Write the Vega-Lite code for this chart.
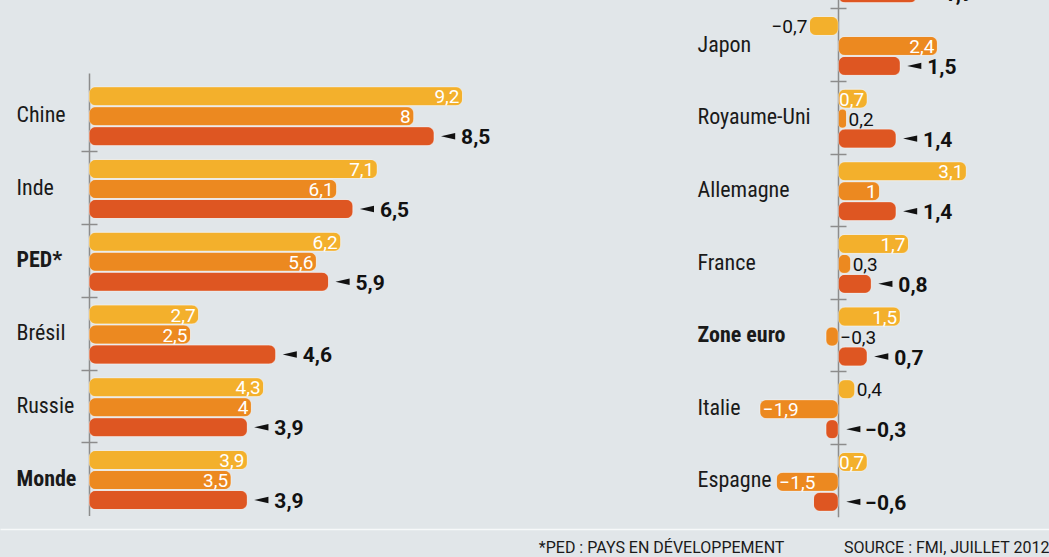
{
  "$schema": "https://vega.github.io/schema/vega-lite/v6.json",
  "width": 1049,
  "height": 529,
  "autosize": {"type": "none"},
  "padding": {"left": 0, "top": 0, "right": 0, "bottom": 28},
  "background": "#E1E6E9",
  "config": {
    "view": {"stroke": null},
    "font": "Roboto Condensed, Liberation Sans Narrow, DejaVu Sans Condensed, sans-serif",
    "locale": {"number": {"decimal": ",", "thousands": " ", "grouping": [3], "currency": ["", " €"], "minus": "−"}}
  },
  "datasets": {
    "gauche": [
      {"pays": "Chine", "annee": "2011", "valeur": 9.2},
      {"pays": "Chine", "annee": "2012", "valeur": 8},
      {"pays": "Chine", "annee": "2013", "valeur": 8.5},
      {"pays": "Inde", "annee": "2011", "valeur": 7.1},
      {"pays": "Inde", "annee": "2012", "valeur": 6.1},
      {"pays": "Inde", "annee": "2013", "valeur": 6.5},
      {"pays": "PED*", "annee": "2011", "valeur": 6.2},
      {"pays": "PED*", "annee": "2012", "valeur": 5.6},
      {"pays": "PED*", "annee": "2013", "valeur": 5.9},
      {"pays": "Brésil", "annee": "2011", "valeur": 2.7},
      {"pays": "Brésil", "annee": "2012", "valeur": 2.5},
      {"pays": "Brésil", "annee": "2013", "valeur": 4.6},
      {"pays": "Russie", "annee": "2011", "valeur": 4.3},
      {"pays": "Russie", "annee": "2012", "valeur": 4},
      {"pays": "Russie", "annee": "2013", "valeur": 3.9},
      {"pays": "Monde", "annee": "2011", "valeur": 3.9},
      {"pays": "Monde", "annee": "2012", "valeur": 3.5},
      {"pays": "Monde", "annee": "2013", "valeur": 3.9}
    ],
    "droite": [
      {"pays": "Pays avancés", "annee": "2011", "valeur": 1.6},
      {"pays": "Pays avancés", "annee": "2012", "valeur": 1.4},
      {"pays": "Pays avancés", "annee": "2013", "valeur": 1.9},
      {"pays": "Japon", "annee": "2011", "valeur": -0.7},
      {"pays": "Japon", "annee": "2012", "valeur": 2.4},
      {"pays": "Japon", "annee": "2013", "valeur": 1.5},
      {"pays": "Royaume-Uni", "annee": "2011", "valeur": 0.7},
      {"pays": "Royaume-Uni", "annee": "2012", "valeur": 0.2},
      {"pays": "Royaume-Uni", "annee": "2013", "valeur": 1.4},
      {"pays": "Allemagne", "annee": "2011", "valeur": 3.1},
      {"pays": "Allemagne", "annee": "2012", "valeur": 1},
      {"pays": "Allemagne", "annee": "2013", "valeur": 1.4},
      {"pays": "France", "annee": "2011", "valeur": 1.7},
      {"pays": "France", "annee": "2012", "valeur": 0.3},
      {"pays": "France", "annee": "2013", "valeur": 0.8},
      {"pays": "Zone euro", "annee": "2011", "valeur": 1.5},
      {"pays": "Zone euro", "annee": "2012", "valeur": -0.3},
      {"pays": "Zone euro", "annee": "2013", "valeur": 0.7},
      {"pays": "Italie", "annee": "2011", "valeur": 0.4},
      {"pays": "Italie", "annee": "2012", "valeur": -1.9},
      {"pays": "Italie", "annee": "2013", "valeur": -0.3},
      {"pays": "Espagne", "annee": "2011", "valeur": 0.7},
      {"pays": "Espagne", "annee": "2012", "valeur": -1.5},
      {"pays": "Espagne", "annee": "2013", "valeur": -0.6}
    ]
  },
  "resolve": {"scale": {"x": "independent", "y": "independent", "yOffset": "independent"}},
  "layer": [
    {
      "data": {"name": "gauche"},
      "resolve": {"axis": {"y": "independent"}},
      "encoding": {
        "x": {"field": "valeur", "type": "quantitative",
              "scale": {"domain": [-2.1921, 23.6453], "nice": false, "zero": false},
              "axis": {"orient": "bottom", "domainColor": "#F7F9FA", "domainWidth": 1.5, "ticks": false, "labels": false, "grid": false,
                       "title": "*PED : PAYS EN DÉVELOPPEMENT\u00a0\u00a0\u00a0\u00a0\u00a0\u00a0\u00a0\u00a0\u00a0\u00a0\u00a0\u00a0\u00a0\u00a0\u00a0SOURCE : FMI, JUILLET 2012",
                       "titleAnchor": "end", "titleAlign": "right", "titleBaseline": "top", "titlePadding": 10,
                       "titleFont": "Roboto", "titleFontSize": 16, "titleFontWeight": "normal", "titleColor": "#1a1a1a"}},
        "yOffset": {"field": "annee", "type": "nominal", "scale": {"paddingInner": 0.05, "paddingOuter": 0.344, "align": 0.6}}
      },
      "layer": [
        {
          "mark": {"type": "bar", "cornerRadius": 7, "stroke": "#ffffff", "strokeOpacity": 0.35, "strokeWidth": 1},
          "encoding": {
            "y": {"field": "pays", "type": "nominal", "sort": null,
                  "scale": {"range": [73, 515.5], "paddingInner": 0, "paddingOuter": 0.0412, "align": 0.917},
                  "axis": {"orient": "left", "offset": -89, "domainColor": "#8c8c8c", "domainWidth": 1.5, "ticks": false,
                           "labelAlign": "left", "labelBaseline": "middle", "labelPadding": 73, "labelFontSize": 22, "labelColor": "#1a1a1a", "labelLimit": 300,
                           "labelFontWeight": {"condition": {"test": "datum.value === 'PED*' || datum.value === 'Monde'", "value": "bold"}, "value": "normal"},
                           "grid": false, "title": null}},
            "color": {"field": "annee", "type": "nominal",
                      "scale": {"domain": ["2011", "2012", "2013"], "range": ["#F3B02C", "#EC8920", "#DE5622"]},
                      "legend": null}
          }
        },
        {
          "transform": [{"filter": "datum.annee != '2013' && datum.valeur >= 0.6"}],
          "mark": {"type": "text", "align": "right", "baseline": "middle", "dx": -3, "dy": 1, "font": "Roboto", "fontSize": 19, "fill": "#ffffff"},
          "encoding": {
            "y": {"field": "pays", "type": "nominal", "sort": null,
                  "scale": {"range": [73, 515.5], "paddingInner": 0, "paddingOuter": 0.0412, "align": 0.917},
                  "axis": {"orient": "left", "offset": -97, "domain": false, "ticks": true, "tickSize": 16, "tickColor": "#8c8c8c", "tickWidth": 1.5,
                           "values": ["Chine", "Inde", "PED*", "Brésil", "Russie"], "tickOffset": 36.375,
                           "labels": false, "grid": false, "title": null}},
            "text": {"field": "valeur", "type": "quantitative", "format": ".2~r"}
          }
        },
        {
          "transform": [{"filter": "datum.annee == '2013'"}],
          "mark": {"type": "point", "shape": "M-1,0L1,-0.45L1,0.45Z", "size": 200, "filled": true, "fill": "#111111", "opacity": 1, "strokeWidth": 0, "xOffset": 14},
          "encoding": {
            "y": {"field": "pays", "type": "nominal", "sort": null, "axis": null}
          }
        },
        {
          "transform": [{"filter": "datum.annee == '2013'"}],
          "mark": {"type": "text", "align": "left", "baseline": "middle", "dx": 27, "dy": 2, "font": "Roboto", "fontSize": 21, "fontWeight": "bold", "fill": "#111111"},
          "encoding": {
            "y": {"field": "pays", "type": "nominal", "sort": null, "axis": null},
            "text": {"field": "valeur", "type": "quantitative", "format": ".2~r"}
          }
        }
      ]
    },
    {
      "data": {"name": "droite"},
      "resolve": {"axis": {"y": "independent"}},
      "encoding": {
        "x": {"field": "valeur", "type": "quantitative",
              "scale": {"domain": [-20.298, 5.1017], "nice": false, "zero": false},
              "axis": null},
        "yOffset": {"field": "annee", "type": "nominal", "scale": {"paddingInner": 0.05, "paddingOuter": 0.344, "align": 0.6}}
      },
      "layer": [
        {
          "mark": {"type": "bar", "cornerRadius": 7, "stroke": "#ffffff", "strokeOpacity": 0.35, "strokeWidth": 1},
          "encoding": {
            "y": {"field": "pays", "type": "nominal", "sort": null,
                  "scale": {"range": [-64.4, 516.8], "paddingInner": 0, "paddingOuter": 0},
                  "axis": {"orient": "left", "offset": -838, "domainColor": "#8c8c8c", "domainWidth": 1.5, "ticks": false,
                           "labelAlign": "left", "labelBaseline": "middle", "labelPadding": 141, "labelFontSize": 22, "labelColor": "#1a1a1a", "labelLimit": 300,
                           "labelFontWeight": {"condition": {"test": "datum.value === 'Zone euro' || datum.value === 'Pays avancés'", "value": "bold"}, "value": "normal"},
                           "grid": false, "title": null}},
            "color": {"field": "annee", "type": "nominal",
                      "scale": {"domain": ["2011", "2012", "2013"], "range": ["#F3B02C", "#EC8920", "#DE5622"]},
                      "legend": null}
          }
        },
        {
          "transform": [{"filter": "datum.annee != '2013' && datum.valeur >= 0.6"}],
          "mark": {"type": "text", "align": "right", "baseline": "middle", "dx": -3, "dy": 1, "font": "Roboto", "fontSize": 19, "fill": "#ffffff"},
          "encoding": {
            "y": {"field": "pays", "type": "nominal", "sort": null,
                  "scale": {"range": [-64.4, 516.8], "paddingInner": 0, "paddingOuter": 0},
                  "axis": {"orient": "left", "offset": -846, "domain": false, "ticks": true, "tickSize": 16, "tickColor": "#8c8c8c", "tickWidth": 1.5,
                           "values": ["Pays avancés", "Japon", "Royaume-Uni", "Allemagne", "France", "Zone euro", "Italie"], "tickOffset": 36.325,
                           "labels": false, "grid": false, "title": null}},
            "text": {"field": "valeur", "type": "quantitative", "format": ".2~r"}
          }
        },
        {
          "transform": [{"filter": "datum.annee != '2013' && datum.valeur >= 0 && datum.valeur < 0.6"}],
          "mark": {"type": "text", "align": "left", "baseline": "middle", "dx": 2, "dy": 1, "font": "Roboto", "fontSize": 19, "fill": "#111111"},
          "encoding": {
            "y": {"field": "pays", "type": "nominal", "sort": null, "axis": null},
            "text": {"field": "valeur", "type": "quantitative", "format": ".2~r"}
          }
        },
        {
          "transform": [{"filter": "datum.annee != '2013' && datum.valeur <= -1"}],
          "mark": {"type": "text", "align": "left", "baseline": "middle", "dx": 3, "dy": 1, "font": "Roboto", "fontSize": 19, "fill": "#ffffff"},
          "encoding": {
            "y": {"field": "pays", "type": "nominal", "sort": null, "axis": null},
            "text": {"field": "valeur", "type": "quantitative", "format": ".2~r"}
          }
        },
        {
          "transform": [{"filter": "datum.annee != '2013' && datum.valeur > -1 && datum.valeur <= -0.5"}],
          "mark": {"type": "text", "align": "right", "baseline": "middle", "dx": -2, "dy": 1, "font": "Roboto", "fontSize": 19, "fill": "#111111"},
          "encoding": {
            "y": {"field": "pays", "type": "nominal", "sort": null, "axis": null},
            "text": {"field": "valeur", "type": "quantitative", "format": ".2~r"}
          }
        },
        {
          "transform": [{"filter": "datum.annee != '2013' && datum.valeur > -0.5 && datum.valeur < 0"}],
          "mark": {"type": "text", "align": "left", "baseline": "middle", "dx": 2, "dy": 1, "font": "Roboto", "fontSize": 19, "fill": "#111111"},
          "encoding": {
            "x": {"datum": 0, "axis": null},
            "y": {"field": "pays", "type": "nominal", "sort": null, "axis": null},
            "text": {"field": "valeur", "type": "quantitative", "format": ".2~r"}
          }
        },
        {
          "transform": [{"filter": "datum.annee == '2013' && datum.valeur >= 0"}],
          "mark": {"type": "point", "shape": "M-1,0L1,-0.45L1,0.45Z", "size": 200, "filled": true, "fill": "#111111", "opacity": 1, "strokeWidth": 0, "xOffset": 14},
          "encoding": {
            "y": {"field": "pays", "type": "nominal", "sort": null, "axis": null}
          }
        },
        {
          "transform": [{"filter": "datum.annee == '2013' && datum.valeur >= 0"}],
          "mark": {"type": "text", "align": "left", "baseline": "middle", "dx": 27, "dy": 2, "font": "Roboto", "fontSize": 21, "fontWeight": "bold", "fill": "#111111"},
          "encoding": {
            "y": {"field": "pays", "type": "nominal", "sort": null, "axis": null},
            "text": {"field": "valeur", "type": "quantitative", "format": ".2~r"}
          }
        },
        {
          "transform": [{"filter": "datum.annee == '2013' && datum.valeur < 0"}],
          "mark": {"type": "point", "shape": "M-1,0L1,-0.45L1,0.45Z", "size": 200, "filled": true, "fill": "#111111", "opacity": 1, "strokeWidth": 0, "xOffset": 15},
          "encoding": {
            "x": {"datum": 0, "axis": null},
            "y": {"field": "pays", "type": "nominal", "sort": null, "axis": null}
          }
        },
        {
          "transform": [{"filter": "datum.annee == '2013' && datum.valeur < 0"}],
          "mark": {"type": "text", "align": "left", "baseline": "middle", "dx": 27, "dy": 2, "font": "Roboto", "fontSize": 21, "fontWeight": "bold", "fill": "#111111"},
          "encoding": {
            "x": {"datum": 0, "axis": null},
            "y": {"field": "pays", "type": "nominal", "sort": null, "axis": null},
            "text": {"field": "valeur", "type": "quantitative", "format": ".2~r"}
          }
        }
      ]
    }
  ]
}
